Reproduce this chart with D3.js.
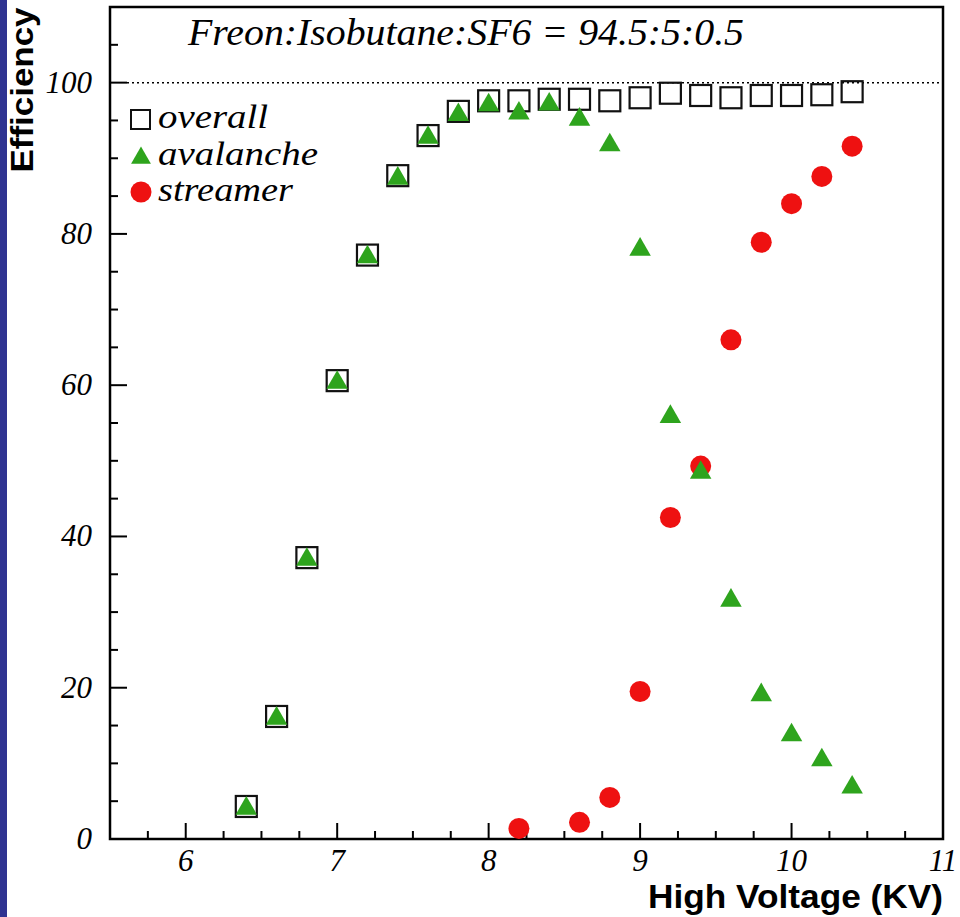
<!DOCTYPE html>
<html><head><meta charset="utf-8">
<script src="https://cdn.jsdelivr.net/npm/d3@7"></script>
<style>body{margin:0;background:#fff}svg{display:block}</style>
</head><body>
<script>
const voltages = [6.4,6.6,6.8,7.0,7.2,7.4,7.6,7.8,8.0,8.2,8.4,8.6,8.8,9.0,9.2,9.4,9.6,9.8,10.0,10.2,10.4];
const overall  = [4.3,16.2,37.2,60.6,77.2,87.7,93.0,96.2,97.6,97.6,97.8,97.8,97.6,98.0,98.6,98.3,98.0,98.3,98.3,98.4,98.8];
const avalanche= [4.3,16.2,37.2,60.6,77.2,87.6,93.0,96.0,97.3,96.2,97.4,95.4,92.0,78.2,56.1,48.7,31.8,19.3,14.0,10.7,7.1];
const streamerV= [8.2,8.6,8.8,9.0,9.2,9.4,9.6,9.8,10.0,10.2,10.4];
const streamer = [1.4,2.2,5.5,19.5,42.5,49.3,66.0,78.9,84.0,87.6,91.6];
const xTicks = [6,7,8,9,10,11];
const yTicks = [0,20,40,60,80,100];
const title = "Freon:Isobutane:SF6 = 94.5:5:0.5";
const legendItems = ["overall","avalanche","streamer"];

const W=960,H=917;
const L=110,R=943,T=7,B=839;
const svg=d3.select("body").append("svg").attr("width",W).attr("height",H);
svg.append("rect").attr("width",W).attr("height",H).attr("fill","#fff");
svg.append("rect").attr("x",0).attr("y",0).attr("width",7).attr("height",H).attr("fill","#2f3391");

const x=d3.scaleLinear().domain([5.5,11]).range([L,R]);
const y=d3.scaleLinear().domain([0,110]).range([B,T]);
const serif="'Liberation Serif','Times New Roman',serif";
const sans="'Liberation Sans',Arial,sans-serif";

// minor ticks
const xMinor=d3.range(5.75,11,0.25).filter(v=>Math.abs(v-Math.round(v))>1e-6);
const yMinor=d3.range(5,110,5).filter(v=>v%20!==0);
const g=svg.append("g");
g.selectAll(".xmin").data(xMinor).join("line").attr("x1",d=>x(d)).attr("x2",d=>x(d)).attr("y1",B).attr("y2",B-8).attr("stroke","#000").attr("stroke-width",2);
g.selectAll(".xmaj").data(xTicks).join("line").attr("x1",d=>x(d)).attr("x2",d=>x(d)).attr("y1",B).attr("y2",B-16).attr("stroke","#000").attr("stroke-width",2);
g.selectAll(".ymin").data(yMinor).join("line").attr("x1",L).attr("x2",L+8).attr("y1",d=>y(d)).attr("y2",d=>y(d)).attr("stroke","#000").attr("stroke-width",2);
g.selectAll(".ymaj").data(yTicks).join("line").attr("x1",L).attr("x2",L+17).attr("y1",d=>y(d)).attr("y2",d=>y(d)).attr("stroke","#000").attr("stroke-width",2);

// tick labels
svg.selectAll(".xl").data(xTicks).join("text").attr("x",d=>x(d)).attr("y",B+32)
  .attr("text-anchor","middle").attr("font-family",serif).attr("font-style","italic").attr("font-size",31).text(d=>d);
svg.selectAll(".yl").data(yTicks).join("text").attr("x",L-18).attr("y",d=>y(d)+10)
  .attr("text-anchor","end").attr("font-family",serif).attr("font-style","italic").attr("font-size",31).text(d=>d);

// dotted 100 line
svg.append("line").attr("x1",L+17).attr("x2",R).attr("y1",y(100)).attr("y2",y(100))
  .attr("stroke","#000").attr("stroke-width",1.5).attr("stroke-dasharray","2,3");

// frame
svg.append("rect").attr("x",L).attr("y",T).attr("width",R-L).attr("height",B-T)
  .attr("fill","none").attr("stroke","#000").attr("stroke-width",2.5);

// axis titles
svg.append("text").attr("transform",`translate(33,90) rotate(-90)`).attr("text-anchor","middle")
  .attr("font-family",sans).attr("font-weight","bold").attr("font-size",31)
  .attr("textLength",165).attr("lengthAdjust","spacingAndGlyphs").text("Efficiency");
svg.append("text").attr("x",648).attr("y",908)
  .attr("font-family",sans).attr("font-weight","bold").attr("font-size",34)
  .attr("textLength",295).attr("lengthAdjust","spacingAndGlyphs").text("High Voltage (KV)");

// title
svg.append("text").attr("x",188).attr("y",45).attr("font-family",serif).attr("font-style","italic")
  .attr("font-size",38).attr("textLength",556).attr("lengthAdjust","spacingAndGlyphs").text(title);

const green="#2ea41d", red="#ee1111";
const tri=d3.symbol().type(d3.symbolTriangle).size(200);

// data
const ov=voltages.map((v,i)=>({v,e:overall[i]}));
const av=voltages.map((v,i)=>({v,e:avalanche[i]}));
const st=streamerV.map((v,i)=>({v,e:streamer[i]}));
svg.selectAll(".ov").data(ov).join("rect").attr("x",d=>x(d.v)-10.5).attr("y",d=>y(d.e)-10.5)
  .attr("width",21).attr("height",21).attr("fill","none").attr("stroke","#111").attr("stroke-width",2.2);
svg.selectAll(".st").data(st).join("circle").attr("cx",d=>x(d.v)).attr("cy",d=>y(d.e)).attr("r",10.5).attr("fill",red);
svg.selectAll(".av").data(av).join("path").attr("d",tri).attr("transform",d=>`translate(${x(d.v)},${y(d.e)+2})`).attr("fill",green);

// legend
const ly=[119,156,192];
const lLen=[110,160,135];
svg.append("rect").attr("x",131).attr("y",ly[0]-9).attr("width",19).attr("height",19).attr("fill","none").attr("stroke","#111").attr("stroke-width",2);
svg.append("path").attr("d",d3.symbol().type(d3.symbolTriangle).size(170)).attr("transform",`translate(141,${ly[1]+2})`).attr("fill",green);
svg.append("circle").attr("cx",141).attr("cy",ly[2]).attr("r",10.5).attr("fill",red);
svg.selectAll(".lg").data(legendItems).join("text").attr("x",158).attr("y",(d,i)=>ly[i]+9)
  .attr("font-family",serif).attr("font-style","italic").attr("font-size",34)
  .attr("textLength",(d,i)=>lLen[i]).attr("lengthAdjust","spacingAndGlyphs").text(d=>d);
</script>
</body></html>
